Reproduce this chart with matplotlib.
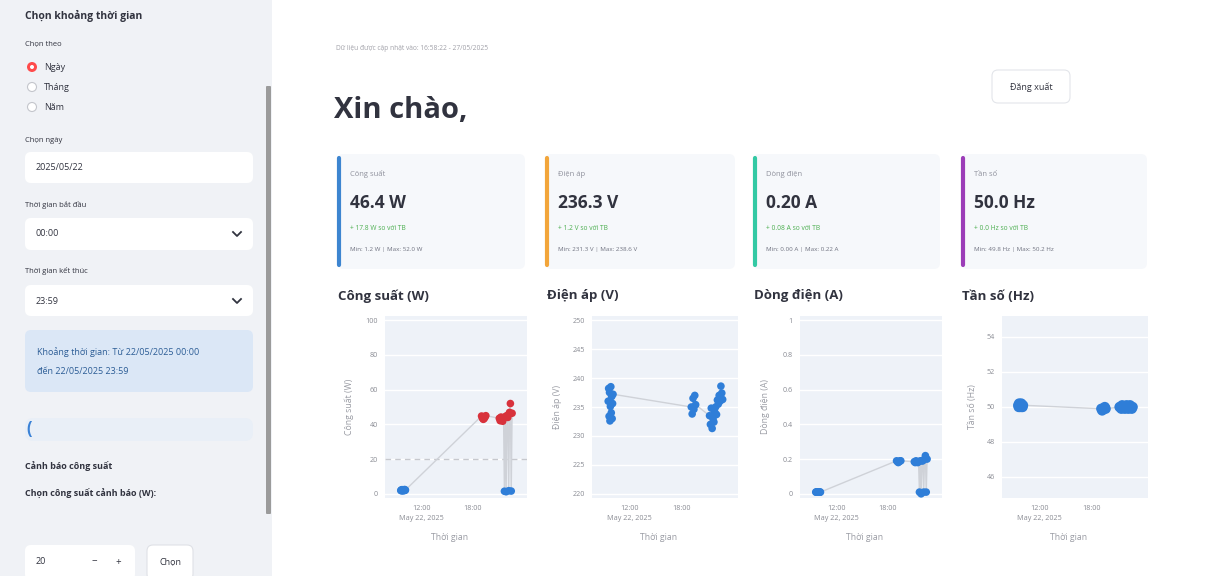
import matplotlib
matplotlib.use("Agg")
import matplotlib.pyplot as plt
import matplotlib.dates as mdates
from matplotlib.patches import FancyBboxPatch, Rectangle, Circle
import pandas as pd

# ---- data -------------------------------------------------------------
day = "2025-05-22"
times = ["09:36", "09:39", "09:42", "09:45", "09:48", "09:51", "09:54", "09:57", "10:00", "10:03", "10:06", "10:09",
         "19:05", "19:11", "19:17", "19:23", "19:29", "19:35",
         "21:10", "21:16", "21:22", "21:28", "21:34", "21:40", "21:46", "21:52", "21:58", "22:04",
         "22:10", "22:16", "22:22", "22:28", "22:34", "22:40"]

power = [1.9, 2.2, 1.8, 2.4, 2.0, 1.7, 2.3, 2.1, 1.9, 2.5, 2.0, 2.2,
         44.8, 43.6, 42.9, 43.3, 44.1, 45.0,
         43.5, 42.1, 44.2, 43.0, 41.8, 43.6, 1.5, 44.5, 1.2, 45.1,
         44.0, 1.8, 46.9, 52.0, 1.6, 46.4]

voltage = [236.0, 238.2, 233.4, 237.5, 232.6, 235.1, 238.5, 234.0, 236.8, 233.0, 235.6, 237.2,
           235.0, 233.8, 236.5, 234.6, 237.0, 235.4,
           233.5, 232.0, 234.8, 231.3, 233.0, 232.4, 234.1, 235.0, 233.7, 236.2,
           235.5, 237.0, 236.0, 238.6, 237.4, 236.3]

current = [0.01, 0.01, 0.01, 0.01, 0.01, 0.01, 0.01, 0.01, 0.01, 0.01, 0.01, 0.01,
           0.19, 0.185, 0.18, 0.185, 0.19, 0.19,
           0.185, 0.18, 0.19, 0.185, 0.18, 0.185, 0.01, 0.19, 0.00, 0.19,
           0.19, 0.01, 0.20, 0.22, 0.01, 0.20]

freq = [50.1, 50.0, 50.2, 50.1, 50.0, 50.1, 50.1, 50.2, 50.0, 50.1, 50.0, 50.1,
        49.9, 49.8, 49.9, 49.9, 50.0, 49.9,
        50.0, 50.0, 49.9, 50.1, 50.0, 50.0, 49.9, 50.0, 50.1, 50.0,
        49.9, 50.0, 50.1, 50.0, 49.9, 50.0]

threshold = 20

card_titles = ["Công suất", "Điện áp", "Dòng điện", "Tần số"]
card_values = ["46.4 W", "236.3 V", "0.20 A", "50.0 Hz"]
card_deltas = ["+ 17.8 W so với TB", "+ 1.2 V so với TB", "+ 0.08 A so với TB", "+ 0.0 Hz so với TB"]
card_ranges = ["Min: 1.2 W | Max: 52.0 W", "Min: 231.3 V | Max: 238.6 V",
               "Min: 0.00 A | Max: 0.22 A", "Min: 49.8 Hz | Max: 50.2 Hz"]
card_colors = ["#3d85d0", "#f2a53a", "#33c9a4", "#9c3db8"]

chart_titles = ["Công suất (W)", "Điện áp (V)", "Dòng điện (A)", "Tần số (Hz)"]
y_titles = ["Công suất (W)", "Điện áp (V)", "Dòng điện (A)", "Tần số (Hz)"]
y_ticks = [[0, 20, 40, 60, 80, 100],
           [220, 225, 230, 235, 240, 245, 250],
           [0, 0.2, 0.4, 0.6, 0.8, 1],
           [46, 48, 50, 52, 54]]
y_ticklabels = [["0", "20", "40", "60", "80", "100"],
                ["220", "225", "230", "235", "240", "245", "250"],
                ["0", "0.2", "0.4", "0.6", "0.8", "1"],
                ["46", "48", "50", "52", "54"]]
y_limits = [(-2.4, 102.4), (219.3, 250.7), (-0.024, 1.024), (44.8, 55.2)]
marker_sizes = [30, 30, 30, 55]

# ---- page -------------------------------------------------------------
W, H = 1217, 576
plt.rcParams['font.family'] = ['Open Sans', 'DejaVu Sans']
TXT = "#31333f"

fig = plt.figure(figsize=(W / 100, H / 100), dpi=100)
fig.patch.set_facecolor("white")
bg = fig.add_axes([0, 0, 1, 1])
bg.set_xlim(0, W)
bg.set_ylim(H, 0)
bg.axis("off")


def box(x0, y0, x1, y1, fc, ec="none", r=6, lw=0.8, z=1):
    bg.add_patch(FancyBboxPatch((x0 + r, y0 + r), x1 - x0 - 2 * r, y1 - y0 - 2 * r,
                                boxstyle=f"round,pad={r}", fc=fc, ec=ec, lw=lw, zorder=z))


def chevron(x, y):
    bg.plot([x - 4, x, x + 4], [y - 2, y + 2, y - 2], color=TXT, lw=1.3, zorder=3)


# sidebar
bg.add_patch(Rectangle((0, 0), 272, H, fc="#f0f2f6", zorder=0))
bg.add_patch(FancyBboxPatch((267, 87), 3, 426, boxstyle="round,pad=1", fc="#9b9b9b", ec="none", zorder=2))

bg.text(25, 16, "Chọn khoảng thời gian", fontsize=7.5, fontweight="bold", color=TXT, va="center")
bg.text(25, 44, "Chọn theo", fontsize=5.5, color=TXT, va="center")
bg.add_patch(Circle((32, 67), 5, fc="#ff4b4b", ec="none", zorder=2))
bg.add_patch(Circle((32, 67), 2, fc="white", ec="none", zorder=3))
for yy in (87, 107):
    bg.add_patch(Circle((32, yy), 4.5, fc="white", ec="#c4c6cc", lw=0.8, zorder=2))
for yy, lab in zip((67, 87, 107), ("Ngày", "Tháng", "Năm")):
    bg.text(44, yy, lab, fontsize=6.5, color=TXT, va="center")

bg.text(25, 140, "Chọn ngày", fontsize=5.5, color=TXT, va="center")
box(25, 152, 253, 183, "white", z=1)
bg.text(36, 168, "2025/05/22", fontsize=6.5, color=TXT, va="center", zorder=3)

bg.text(25, 205, "Thời gian bắt đầu", fontsize=5.5, color=TXT, va="center")
box(25, 218, 253, 250, "white", z=1)
bg.text(36, 234, "00:00", fontsize=6.5, color=TXT, va="center", zorder=3)
chevron(237, 234)

bg.text(25, 271, "Thời gian kết thúc", fontsize=5.5, color=TXT, va="center")
box(25, 285, 253, 316, "white", z=1)
bg.text(36, 301, "23:59", fontsize=6.5, color=TXT, va="center", zorder=3)
chevron(237, 301)

box(25, 330, 253, 392, "#dbe7f6", z=1)
bg.text(37, 352, "Khoảng thời gian: Từ 22/05/2025 00:00", fontsize=6.5, color="#2c5d96", va="center", zorder=3)
bg.text(37, 371, "đến 22/05/2025 23:59", fontsize=6.5, color="#2c5d96", va="center", zorder=3)

box(25, 418, 253, 441, "#e9eff7", r=8, z=1)
bg.text(26, 429, "(", fontsize=12, color="#3b82d6", va="center", fontweight="bold", zorder=3)

bg.text(25, 466, "Cảnh báo công suất", fontsize=6.5, fontweight="bold", color=TXT, va="center")
bg.text(25, 494, "Chọn công suất cảnh báo (W):", fontsize=6.5, fontweight="bold", color=TXT, va="center")

box(25, 545, 135, 580, "white", z=1)
bg.text(36, 562, str(threshold), fontsize=6.5, color=TXT, va="center", zorder=3)
bg.text(94, 562, "−", fontsize=7, color=TXT, va="center", ha="center", zorder=3)
bg.text(118, 562, "+", fontsize=7, color=TXT, va="center", ha="center", zorder=3)
box(147, 545, 193, 580, "white", ec="#dfe1e6", z=1)
bg.text(170, 562, "Chọn", fontsize=6.5, color=TXT, va="center", ha="center", zorder=3)

# header
bg.text(336, 48, "Dữ liệu được cập nhật vào: 16:58:22 - 27/05/2025", fontsize=4.8, color="#a0a0a8", va="center")
bg.text(334, 111, "Xin chào,", fontsize=21, fontweight="bold", color=TXT, va="center")
box(992, 70, 1070, 103, "white", ec="#e3e5ea", r=6, z=1)
bg.text(1031, 87, "Đăng xuất", fontsize=6.5, color=TXT, va="center", ha="center", zorder=3)

# metric cards
card_x = [(337, 525), (545, 735), (753, 940), (961, 1147)]
for (x0, x1), title, val, dlt, rng, col in zip(card_x, card_titles, card_values, card_deltas, card_ranges, card_colors):
    box(x0, 154, x1, 269, "#f6f8fb", z=1)
    bg.plot([x0 + 1.5, x0 + 1.5], [158, 265], color=col, lw=3, solid_capstyle="round", zorder=2)
    bg.text(x0 + 13, 174, title, fontsize=5.5, color="#8f919c", va="center", zorder=3)
    bg.text(x0 + 13, 203, val, fontsize=12.5, fontweight="bold", color=TXT, va="center", zorder=3)
    bg.text(x0 + 13, 228, dlt, fontsize=4.8, color="#4caf50", va="center", zorder=3)
    bg.text(x0 + 13, 250, rng, fontsize=4.5, color="#6f7280", va="center", zorder=3)

# ---- charts -----------------------------------------------------------
t = pd.to_datetime([f"{day} {s}" for s in times]).to_numpy()
t12 = mdates.date2num(pd.Timestamp(f"{day} 12:00"))
t18 = mdates.date2num(pd.Timestamp(f"{day} 18:00"))
x_lim = (pd.Timestamp(f"{day} 07:45"), pd.Timestamp("2025-05-23 00:25"))

series = [power, voltage, current, freq]
chart_x = [(385, 527), (592, 738), (800, 942), (1002, 1148)]
y_top, y_bot = 316, 498
title_x = [338, 547, 754, 962]
ylab_x = [349, 557, 766, 973]

blue = "#2f7ed8"
red = "#d8323c"

for i, (vals, (x0, x1)) in enumerate(zip(series, chart_x)):
    ax = fig.add_axes([x0 / W, 1 - y_bot / H, (x1 - x0) / W, (y_bot - y_top) / H])
    ax.set_facecolor("#eef2f8")
    for s in ax.spines.values():
        s.set_visible(False)
    ax.plot(t, vals, color="#cfd2d8", lw=1, zorder=2)
    if i == 0:
        cols = [red if v >= threshold else blue for v in vals]
        ax.axhline(threshold, color="#c6c8ce", lw=1, ls=(0, (4, 3)), zorder=1.5)
    else:
        cols = blue
    ax.scatter(t, vals, s=marker_sizes[i], c=cols, edgecolors="none", zorder=3)

    ax.set_xlim(*x_lim)
    ax.set_ylim(*y_limits[i])
    ax.set_yticks(y_ticks[i])
    ax.set_yticklabels(y_ticklabels[i])
    ax.set_xticks([t12, t18])
    ax.set_xticklabels(["12:00", "18:00"])
    ax.grid(axis="y", color="white", lw=1, zorder=0)
    ax.set_axisbelow(True)
    ax.tick_params(length=0, labelsize=5.2, labelcolor="#8a8c94", pad=5)
    ax.annotate("May 22, 2025", xy=(t12, 0), xycoords=("data", "axes fraction"),
                xytext=(0, -21), textcoords="offset pixels", ha="center", va="center",
                fontsize=5.2, color="#8a8c94")

    bg.text(title_x[i], 296, chart_titles[i], fontsize=9.5, fontweight="bold", color=TXT, va="center")
    bg.text(ylab_x[i], 407, y_titles[i], fontsize=6.3, color="#9a9ca4", rotation=90, ha="center", va="center")
    bg.text((x0 + x1) / 2 - 6, 538, "Thời gian", fontsize=6.3, color="#9a9ca4", ha="center", va="center")

fig.savefig("out.png", dpi=100, facecolor="white")
